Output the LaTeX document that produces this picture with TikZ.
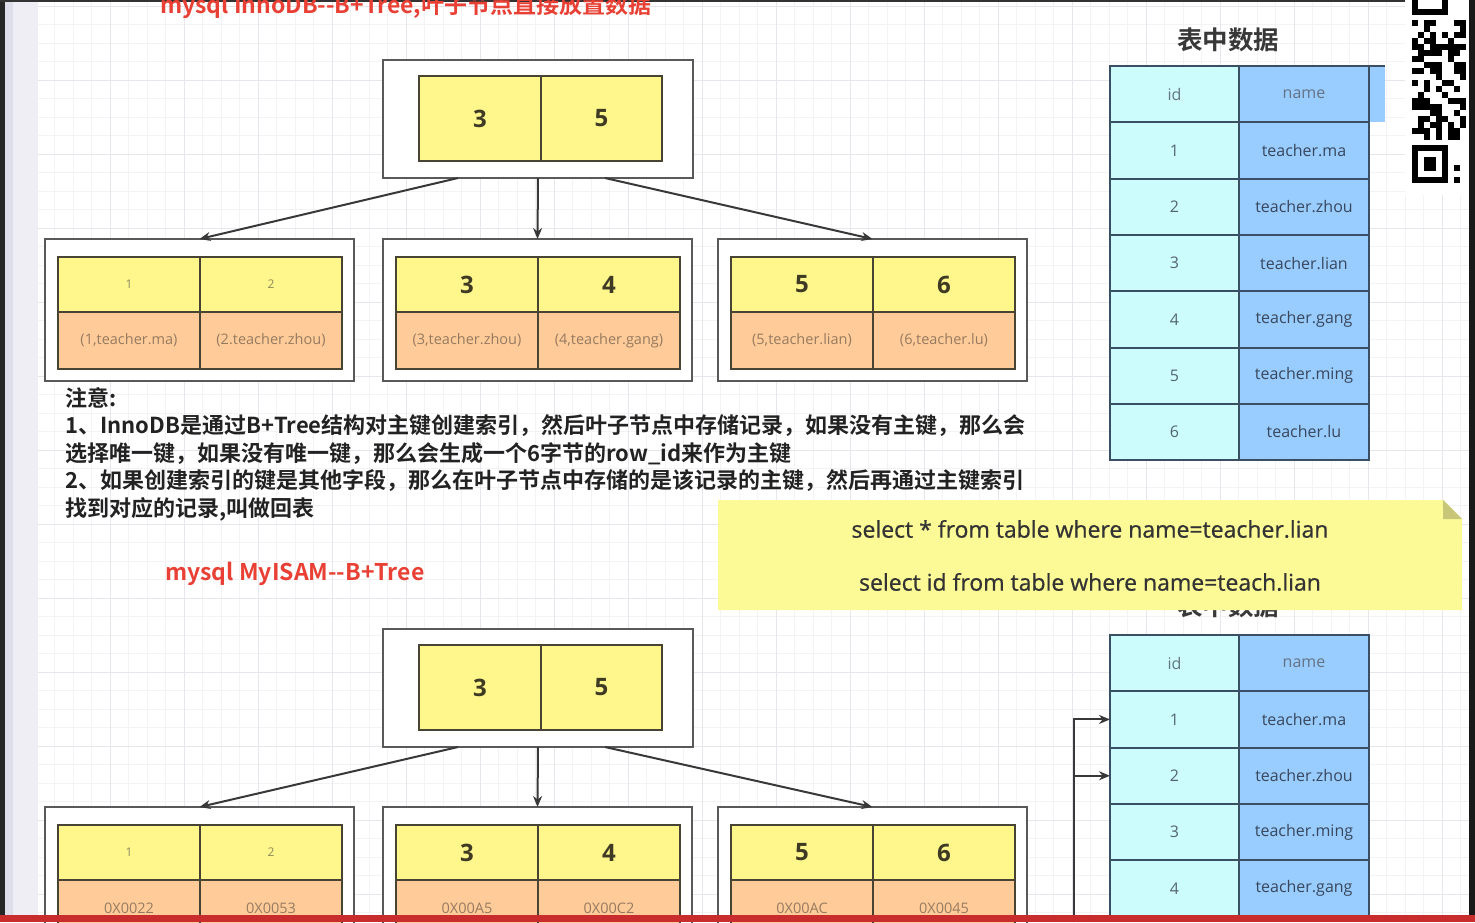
\documentclass[tikz,border=0pt]{standalone}
\usepackage{fontspec}
\setmainfont{Open Sans}
\newfontfamily\cjk{Noto Sans CJK SC}[BoldFont={Noto Sans CJK SC Bold}]
\newfontfamily\sqlfont{Open Sans}[FakeBold=0.7]
\usetikzlibrary{
  arrows.meta,
  positioning,
  calc
}
\definecolor{keyYellow}{RGB}{255,246,140}
\definecolor{dataOrange}{RGB}{255,204,153}
\definecolor{idCyan}{RGB}{204,252,252}
\definecolor{nameBlue}{RGB}{153,204,255}
\definecolor{cellBorder}{RGB}{72,68,52}
\definecolor{tableBorder}{RGB}{58,78,100}
\definecolor{noteYellow}{RGB}{252,250,150}
\definecolor{noteFold}{RGB}{200,198,120}
\definecolor{titleRed}{RGB}{232,64,52}
\definecolor{gridMinor}{RGB}{243,243,246}
\definecolor{gridMajor}{RGB}{230,230,236}
\definecolor{keyText}{RGB}{62,58,36}
\definecolor{smallKeyText}{RGB}{140,140,90}
\definecolor{dataText}{RGB}{150,122,96}
\definecolor{headText}{RGB}{100,116,132}
\definecolor{idText}{RGB}{84,100,116}
\definecolor{nameText}{RGB}{56,72,92}
\definecolor{noteText}{RGB}{34,34,34}
\definecolor{bottomRed}{RGB}{200,44,44}
\definecolor{stripDark}{RGB}{222,222,234}
\definecolor{stripLight}{RGB}{238,238,244}
\newcommand{\rootNode}[5]{%
  \node[outerBox, minimum width=310, minimum height=118] (#1) at (#2,#3) {};
  \node[keyCell, bigKey, minimum width=122, minimum height=85] (#1k1)
    at ($(#1.north west)+(36,16)$) {#4};
  \node[keyCell, bigKey, minimum width=121, minimum height=85,
    right=0pt of #1k1] (#1k2) {#5};}
\newcommand{\leafNode}[8]{%
  \node[outerBox, minimum width=309, minimum height=142] (#1) at (#2,#3) {};
  \node[keyCell, #4] (#1k1) at ($(#1.north west)+(13,18)$) {#5};
  \node[keyCell, #4, right=0pt of #1k1] (#1k2) {#6};
  \node[dataCell, below=0pt of #1k1] (#1d1) {#7};
  \node[dataCell, below=0pt of #1k2] (#1d2) {#8};}
\tikzset{
  outerBox/.style={
    rectangle,
    draw=black!65,
    line width=2.2pt,
    fill=white,
    inner sep=0pt,
    outer sep=0pt,
    anchor=north west
  }
}
\tikzset{
  keyCell/.style={
    rectangle,
    draw=cellBorder,
    line width=1.8pt,
    fill=keyYellow,
    minimum width=142,
    minimum height=55,
    inner sep=0pt,
    outer sep=0pt,
    anchor=north west
  },
  dataCell/.style={
    keyCell,
    fill=dataOrange,
    minimum height=57,
    font=\fontsize{14.5}{17}\selectfont,
    text=dataText
  },
  bigKey/.style={font=\fontsize{24}{28}\selectfont\bfseries, text=keyText},
  smallKey/.style={font=\fontsize{12}{14}\selectfont, text=smallKeyText}
}
\tikzset{
  idCell/.style={
    rectangle,
    draw=tableBorder,
    line width=2pt,
    fill=idCyan,
    minimum width=129,
    minimum height=56.3,
    inner sep=0pt,
    outer sep=0pt,
    anchor=north west,
    font=\fontsize{16}{19}\selectfont,
    text=idText
  },
  nameCell/.style={idCell, fill=nameBlue, minimum width=130, text=nameText},
  tableTitle/.style={font=\cjk\fontsize{25.5}{30}\selectfont\bfseries, text=black!78},
  treeArrow/.style={->, draw=black!78, line width=2pt},
  redTitle/.style={font=\cjk\fontsize{23}{27}\selectfont\bfseries, text=titleRed,
    anchor=base west, inner sep=0pt},
  sqlText/.style={font=\sqlfont\fontsize{23}{26}\selectfont, text=black!80}
}

\begin{document}
\begin{tikzpicture}[x=1pt, y=-1pt, >={Stealth[length=11pt,width=9pt]}]
  \useasboundingbox (0,0) rectangle (1475,922);
  \clip (0,0) rectangle (1475,922);

  % page grid
  \begin{scope}
    \clip (38,0) rectangle (1469,922);
    \foreach \gx in {36,54.5,...,1470}{
      \draw[gridMinor, line width=0.8pt] (\gx,0) -- (\gx,922);
    }
    \foreach \gy in {6,24.5,...,922}{
      \draw[gridMinor, line width=0.8pt] (38,\gy) -- (1469,\gy);
    }
    \foreach \gx in {36,110,...,1470}{
      \draw[gridMajor, line width=1pt] (\gx,0) -- (\gx,922);
    }
    \foreach \gy in {6,80,...,922}{
      \draw[gridMajor, line width=1pt] (38,\gy) -- (1469,\gy);
    }
  \end{scope}
  \fill[black!85] (0,0) rectangle (5,922);
  \fill[stripDark] (5,0) rectangle (13,922);
  \fill[stripLight] (13,0) rectangle (38,922);
  \fill[black!80] (0,0) rectangle (1475,2);
  \fill[black!90] (1469,0) rectangle (1475,922);

  % InnoDB tree
  \node[redTitle] (innoTitle) at (160,13) {mysql InnoDB--B+Tree,叶子节点直接放置数据};
  \rootNode{topRoot}{383}{60}{3}{5}
  \leafNode{topLeafA}{45}{239}{smallKey}{1}{2}{(1,teacher.ma)}{(2.teacher.zhou)}
  \leafNode{topLeafB}{383}{239}{bigKey}{3}{4}{(3,teacher.zhou)}{(4,teacher.gang)}
  \leafNode{topLeafC}{718}{239}{bigKey}{5}{6}{(5,teacher.lian)}{(6,teacher.lu)}
  \foreach \leaf/\dx in {A/-80, B/0, C/67}{
    \draw[treeArrow] ($(topRoot.south)+(\dx,0)$) -- (topLeaf\leaf.north);
  }

  \node[tableTitle] (titleA) at (1228,40) {表中数据};
  \node[idCell, fill=nameBlue, draw=none, minimum width=16] (tAhmore) at (1369,66) {};
  \draw[tableBorder, line width=2pt] (tAhmore.north west) -- (tAhmore.north east);
  \node[idCell, text=headText] (tAhid) at (1110,66) {id};
  \node[nameCell, text=headText, right=0pt of tAhid] (tAhname) {name};
  \foreach \i/\nm in {1/teacher.ma, 2/teacher.zhou, 3/teacher.lian,
                      4/teacher.gang, 5/teacher.ming, 6/teacher.lu}{
    \node[idCell] (tAid\i) at (1110,{66+56.3*\i}) {\i};
    \node[nameCell, right=0pt of tAid\i] (tAname\i) {\nm};
  }

  \node[anchor=north west, align=left, inner sep=0pt, text=noteText,
    font=\cjk\fontsize{22}{27.6}\selectfont\bfseries] (notice) at (65,387)
    {注意:\\
     1、InnoDB是通过B+Tree结构对主键创建索引，然后叶子节点中存储记录，如果没有主键，那么会\\
     选择唯一键，如果没有唯一键，那么会生成一个6字节的row\_id来作为主键\\
     2、如果创建索引的键是其他字段，那么在叶子节点中存储的是该记录的主键，然后再通过主键索引\\
     找到对应的记录,叫做回表};

  % MyISAM tree
  \node[redTitle] (myisamTitle) at (165,580) {mysql MyISAM--B+Tree};
  \rootNode{lowRoot}{383}{629}{3}{5}
  \leafNode{lowLeafA}{45}{807}{smallKey}{1}{2}{0X0022}{0X0053}
  \leafNode{lowLeafB}{383}{807}{bigKey}{3}{4}{0X00A5}{0X00C2}
  \leafNode{lowLeafC}{718}{807}{bigKey}{5}{6}{0X00AC}{0X0045}
  \foreach \leaf/\dx in {A/-80, B/0, C/67}{
    \draw[treeArrow] ($(lowRoot.south)+(\dx,0)$) -- (lowLeaf\leaf.north);
  }

  \node[tableTitle] (titleB) at (1228,606) {表中数据};
  \node[idCell, text=headText] (tBhid) at (1110,635) {id};
  \node[nameCell, text=headText, right=0pt of tBhid] (tBhname) {name};
  \foreach \i/\nm in {1/teacher.ma, 2/teacher.zhou, 3/teacher.ming, 4/teacher.gang}{
    \node[idCell] (tBid\i) at (1110,{635+56.3*\i}) {\i};
    \node[nameCell, right=0pt of tBid\i] (tBname\i) {\nm};
  }
  \coordinate (ptrFoot) at (1074,922);
  \draw[treeArrow] (ptrFoot) |- (tBid1.west);
  \draw[treeArrow] (ptrFoot) |- (tBid2.west);

  % sql note
  \fill[noteYellow] (718,500) -- (1443,500) -- (1462,519) -- (1462,610)
    -- (718,610) -- cycle;
  \fill[noteFold] (1443,500) -- (1462,519) -- (1443,519) -- cycle;
  \node[sqlText] (sqlAll) at (1090,529) {select * from table where name=teacher.lian};
  \node[sqlText] (sqlId) at (1090,582) {select id from table where name=teach.lian};

  % qr code at the edge
  \fill[white] (1405,0) rectangle (1469,195);
  \pgfmathsetseed{5}
  \foreach \c in {0,...,8}{
    \foreach \r in {0,...,19}{
      \pgfmathtruncatemacro\bit{random(0,1)}
      \ifnum\bit=1
        \fill[black] ({1412+6*\c},{20+6*\r}) rectangle ++(6,6);
      \fi
    }
  }
  \foreach \r in {0,...,5}{
    \pgfmathtruncatemacro\bit{random(0,1)}
    \ifnum\bit=1
      \fill[black] (1454,{147+6*\r}) rectangle ++(6,6);
    \fi
  }
  \fill[black] (1412,145) rectangle (1448,183);
  \fill[white] (1418,151) rectangle (1442,177);
  \fill[black] (1424,157) rectangle (1436,171);
  \fill[black] (1412,0) rectangle (1448,15);
  \fill[white] (1418,0) rectangle (1442,9);

  \fill[bottomRed] (0,915) rectangle (1475,922);
\end{tikzpicture}
\end{document}
